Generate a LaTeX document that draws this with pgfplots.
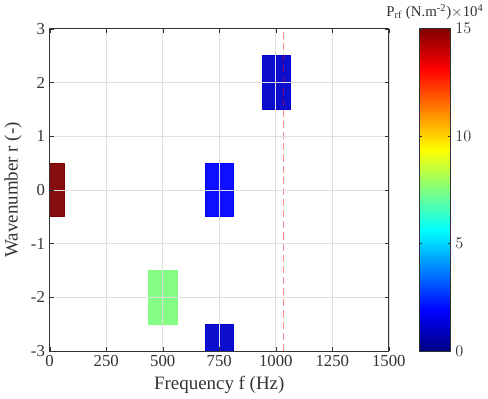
\documentclass[border=0pt]{standalone}
\usepackage{fontspec}
\setmainfont{Liberation Serif}
\usepackage{pgfplots}
\pgfplotsset{compat=1.18}
\usepgfplotslibrary{patchplots}
\begin{document}
\begin{tikzpicture}
\begin{axis}[
  scale only axis,
  width=251pt, height=238.5pt,
  xmin=0, xmax=1500, ymin=-3, ymax=3,
  xtick={0,250,...,1500}, ytick={-3,-2,...,3},
  /pgf/number format/assume math mode=true,
  /pgf/number format/1000 sep={},
  tick label style={font=\fontsize{12.4}{14}\selectfont, text=black!80},
  label style={font=\fontsize{14}{16}\selectfont, text=black!80},
  xlabel={Frequency f (Hz)}, ylabel={Wavenumber r (-)},
  grid=major, major grid style={gray!25, line width=0.5pt},
  axis line style={black!80, line width=0.6pt},
  tick style={black!80},
  tick align=inside, major tick length=3pt,
  axis on top,
  colormap/jet,
  point meta min=0, point meta max=15,
  colorbar right,
  colorbar/width=23.25pt,
  colorbar shift/.style={xshift=22.5pt},
  colorbar style={
    at={(parent axis.north east)}, anchor=north west,
    ytick={0,5,10,15},
    yticklabel style={font=\fontsize{12.4}{14}\selectfont, text=black!80},
    axis line style={black!80},
    major tick length=2pt,
    title={P\textsubscript{rf} (N.m\textsuperscript{-2})$\times$10\textsuperscript{4}},
    title style={font=\fontsize{11}{13}\selectfont, text=black!80, yshift=-3pt},
  },
]
\addplot[patch, patch type=rectangle, shader=flat, point meta=explicit, draw=none, fill opacity=0.95] table[meta=c] {
x y c
-62.5 -0.5 15
62.5 -0.5 15
62.5 0.5 15
-62.5 0.5 15
437.5 -2.5 7.5
562.5 -2.5 7.5
562.5 -1.5 7.5
437.5 -1.5 7.5
687.5 -3.5 1.1
812.5 -3.5 1.1
812.5 -2.5 1.1
687.5 -2.5 1.1
687.5 -0.5 1.9
812.5 -0.5 1.9
812.5 0.5 1.9
687.5 0.5 1.9
940 1.5 1.1
1065 1.5 1.1
1065 2.5 1.1
940 2.5 1.1
};
\addplot[red, opacity=0.45, line width=1.1pt, dash pattern=on 5.25pt off 3pt] coordinates {(1033,-3) (1033,3)};
\end{axis}
\end{tikzpicture}
\end{document}
